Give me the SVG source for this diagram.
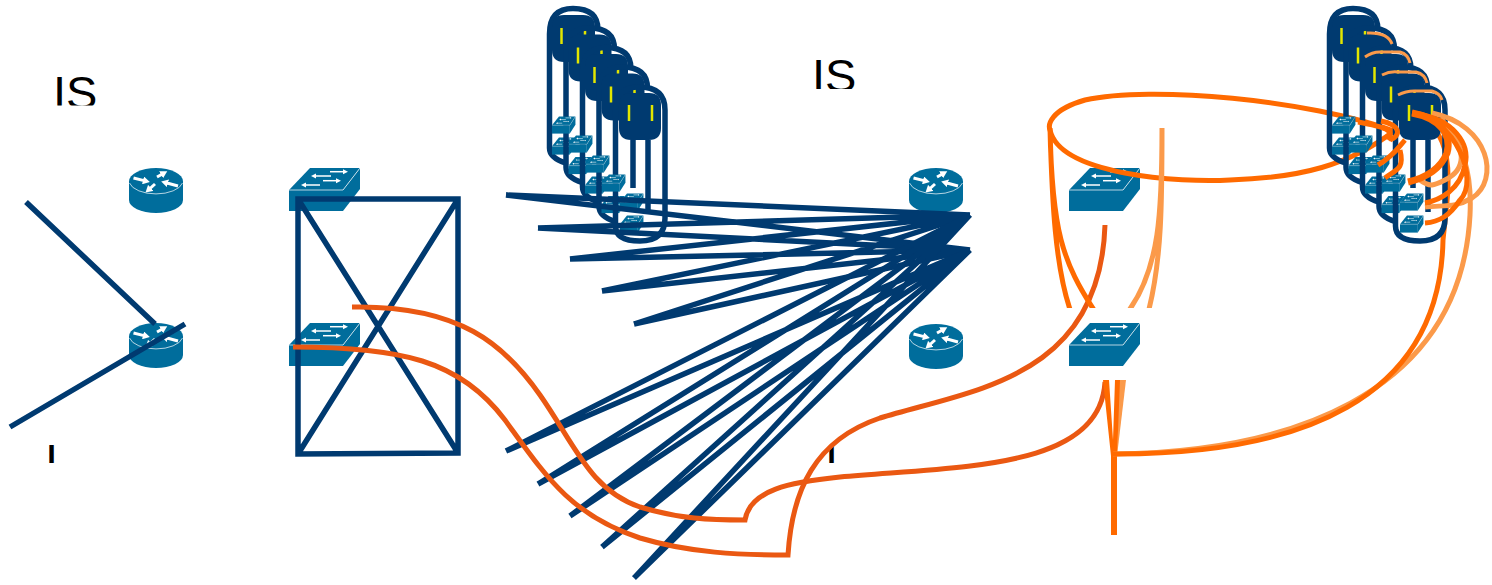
<svg xmlns="http://www.w3.org/2000/svg" width="1492" height="585" viewBox="0 0 1492 585">
<style>
.t{font-family:"Liberation Sans",Arial,sans-serif;font-size:47px;fill:#000}
.n{fill:none;stroke:#003a70;stroke-width:5.500}
.p{fill:none;stroke:#003a70;stroke-width:5.500}
.d{fill:none;stroke:#ea5812;stroke-width:5}
.o{fill:none;stroke:#ff6a00;stroke-width:5}
.ot{fill:none;stroke:#ff6a00;stroke-width:7}
.l{fill:none;stroke:#fb9a4a;stroke-width:5}
.lt{fill:none;stroke:#fb9a4a;stroke-width:3}
.y{stroke:#e2e600;stroke-width:2.500;fill:none}
.ws{stroke:#fff;stroke-width:1;fill:none;stroke-opacity:.7}
.ra{stroke:#fff;stroke-width:3;fill:none;marker-end:url(#hr)}
.sa{stroke:#fff;stroke-width:1.500;fill:none;marker-end:url(#hs)}
</style>
<defs>
<marker id="hr" markerUnits="userSpaceOnUse" markerWidth="8" markerHeight="8" refX="1" refY="4" orient="auto"><path d="M0 0L7 4L0 8Z" fill="#fff"/></marker>
<marker id="hs" markerUnits="userSpaceOnUse" markerWidth="6" markerHeight="6" refX="1" refY="3" orient="auto"><path d="M0 .5L5 3L0 5.500Z" fill="#fff"/></marker>
<clipPath id="c1"><rect x="40" y="60" width="80" height="45.500"/></clipPath>
<clipPath id="c2"><rect x="800" y="45" width="80" height="44"/></clipPath>
<clipPath id="c3"><rect x="30" y="443" width="40" height="20"/></clipPath>
<clipPath id="c4"><rect x="820" y="443" width="40" height="20"/></clipPath>
<clipPath id="c5"><rect x="1030" y="100" width="150" height="208"/></clipPath>
<symbol id="router" viewBox="0 0 54 45" width="54" height="45" overflow="visible">
<path d="M0 13.500V32A27 13 0 0 0 54 32V13.500Z" fill="#006d9c"/>
<ellipse cx="27" cy="13.500" rx="27" ry="13.500" fill="#006d9c"/>
<path d="M0.500 15A27 13.500 0 0 0 53.500 15" class="ws"/>
<path d="M4.500 10L15 12.600" class="ra"/>
<path d="M28 9L33 6.200" class="ra"/>
<path d="M26 16L21 20.500" class="ra"/>
<path d="M49 18L38 15" class="ra"/>
</symbol>
<symbol id="switch" viewBox="0 0 71 44" width="71" height="44" overflow="visible">
<path d="M0 23L21 1H71L54 23Z" fill="#006d9c"/>
<path d="M54 23L71 1V22L54 44Z" fill="#006d9c"/>
<rect y="23" width="54" height="21" fill="#006d9c"/>
<path d="M0 23H54L71 1" class="ws"/>
<path d="M41 4.700H55" class="sa"/>
<path d="M34 13.700H48" class="sa"/>
<path d="M42 9H26" class="sa"/>
<path d="M31 18H16" class="sa"/>
</symbol>
<g id="tube">
<path class="p" d="M566 163Q549.500 158 549.500 148V34Q549.500 8.500 573 8.500Q598 8.500 598 30"/>
<path d="M552 27Q552 15 564 15H583Q595 15 595 27V50Q595 62 583 62H564Q552 62 552 50Z" fill="#003a70"/>
<line class="y" x1="561.500" y1="28" x2="561.500" y2="44"/>
<line class="y" x1="585" y1="28" x2="585" y2="44"/>
</g>
<g id="pod-stack">
<g><use href="#tube"/><use href="#switch" transform="translate(552 137)scale(.33 .4)"/></g>
<g transform="translate(16.500 19.500)"><use href="#tube"/><use href="#switch" transform="translate(552 137)scale(.33 .4)"/></g>
<g transform="translate(33 39)"><use href="#tube"/><use href="#switch" transform="translate(552 137)scale(.33 .4)"/></g>
<g transform="translate(49.500 58.500)"><use href="#tube"/><use href="#switch" transform="translate(552 137)scale(.33 .4)"/></g>
<g transform="translate(66 78)">
<path class="p" d="M549.500 34Q549.500 9 573 9Q599 9 599 32V140Q599 163 574 163Q549.500 163 549.500 148Z"/>
<path d="M553 27Q553 15 565 15H583Q595 15 595 27V50Q595 62 583 62H565Q553 62 553 50Z" fill="#003a70"/>
<path class="p" d="M567 62V110M582 62V134"/>
<line class="y" x1="563" y1="27" x2="563" y2="43"/>
<line class="y" x1="586" y1="27" x2="586" y2="43"/>
</g>
<use href="#switch" transform="translate(552 116)scale(.33 .4)"/>
<use href="#switch" transform="translate(569 135)scale(.33 .4)"/>
<use href="#switch" transform="translate(586 155)scale(.33 .4)"/>
<use href="#switch" transform="translate(602 174)scale(.33 .4)"/>
<use href="#switch" transform="translate(620 193)scale(.33 .4)"/>
<use href="#switch" transform="translate(620 215)scale(.33 .4)"/>
</g>
</defs>

<g id="labels">
<text class="t" x="53" y="109" clip-path="url(#c1)">IS</text>
<text class="t" x="812" y="92" clip-path="url(#c2)">IS</text>
<text class="t" x="45" y="477" clip-path="url(#c3)">I</text>
<text class="t" x="825" y="477" clip-path="url(#c4)">I</text>
</g>
<g id="router-1"><use href="#router" x="129" y="168"/></g>
<g id="router-2"><use href="#router" x="129" y="323"/></g>
<g id="router-3"><use href="#router" x="909" y="168"/></g>
<g id="router-4"><use href="#router" x="909" y="324"/></g>
<g id="switch-1"><use href="#switch" x="289" y="167"/></g>
<g id="switch-2"><use href="#switch" x="289" y="322"/></g>
<g id="switch-3"><use href="#switch" x="1069" y="167"/></g>
<g id="switch-4"><use href="#switch" x="1069" y="322"/></g>
<g id="pods-left"><use href="#pod-stack"/></g>

<g id="connectors">
<path class="n" d="M26 202L155 324M10 427L185 324"/>
<path class="n" d="M298 199H458V453L298 454ZM298 199L458 453M458 199L298 454"/>
<path class="n" d="M506 195L970 215M538 228L970 215M570 259L970 215M602 291L970 215M634 324L970 215M506 195L970 250M538 228L970 250M570 259L970 250M602 291L970 250M634 324L970 250"/>
<path class="n" d="M506 451L970 215M538 484L970 215M570 516L970 215M602 547L970 215M634 578L970 215M506 451L970 250M538 484L970 250M570 516L970 250M602 547L970 250M634 578L970 250"/>
<path class="d" d="M352 307C460 305 505 345 540 395C575 445 590 490 640 507C680 519 710 520 745 520C750 490 790 482 840 477C960 466 1100 470 1105 382"/>
<path class="d" d="M293 347C400 347 460 360 505 420C545 475 570 515 640 538C690 553 740 555 788 555C792 490 815 440 880 418C970 390 1100 380 1105 225"/>
<path class="o" d="M1394 131C1310 100 1150 85 1085 100C1050 110 1048 125 1050 130C1060 175 1180 183 1230 180C1300 178 1350 165 1394 131"/>
<g clip-path="url(#c5)">
<path class="o" d="M1050 128C1052 200 1055 270 1072 315M1050 128C1052 230 1062 262 1096 313"/>
<path class="l" d="M1162 128C1162 210 1160 270 1127 313M1162 128C1162 200 1162 260 1148 313"/>
</g>
<path d="M1118 380H1126L1117 456Z" fill="#fb9a4a"/>
<path d="M1103 380H1109L1113 440L1115 380H1120L1117 456V535H1111V456Z" fill="#ff6a00"/>
<path class="l" d="M1113 454C1280 452 1460 400 1470 215C1472 175 1465 140 1432 114"/>
<path class="o" d="M1113 454C1300 455 1440 400 1443 240C1448 190 1460 130 1412 114"/>
</g>
<g id="pods-right"><use href="#pod-stack" x="780"/></g>
<g id="connectors-front">
<path class="l" d="M1432 113C1490 125 1500 180 1472 198C1455 208 1445 205 1425 207M1440 118C1470 150 1465 170 1445 180C1435 185 1430 188 1420 180"/>
<path class="o" d="M1412 113C1455 118 1470 145 1465 165C1460 190 1440 200 1425 203M1412 113C1455 118 1480 180 1460 200C1450 215 1440 222 1425 223"/>
<path class="ot" d="M1412 113C1440 118 1452 135 1447 153C1440 170 1425 178 1408 182"/>
<path class="o" d="M1381 121C1400 125 1402 135 1390 140M1358 122C1385 127 1395 130 1388 140M1378 165C1395 155 1400 145 1405 140M1400 150C1405 170 1395 170 1385 178"/>
<path class="lt" d="M1367 33Q1388 32 1392 44"/>
<path class="lt" d="M1365 57Q1372 52 1380 52H1400Q1408 54 1410 63"/>
<path class="lt" d="M1382 75Q1390 71 1398 72H1416Q1425 74 1427 83"/>
<path class="lt" d="M1398 95Q1406 91 1414 91H1432Q1440 93 1442 100"/>
</g>
</svg>
